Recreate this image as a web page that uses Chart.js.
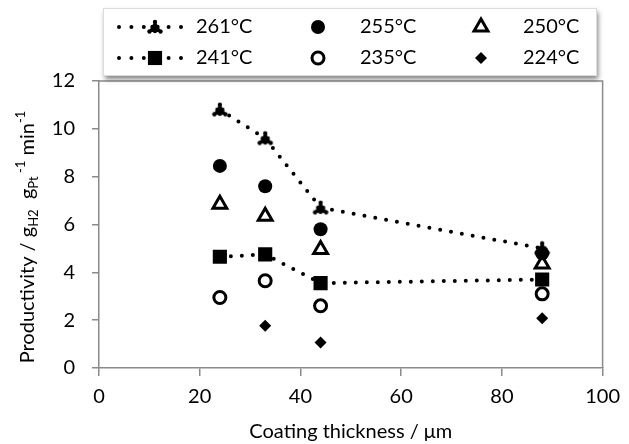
<!DOCTYPE html>
<html>
<head>
<meta charset="utf-8">
<script src="https://cdn.jsdelivr.net/npm/chart.js@4/dist/chart.umd.min.js"></script>
<style>
  html, body { margin: 0; padding: 0; background: #fff; }
</style>
</head>
<body>
<canvas id="prodChart" width="629" height="444"></canvas>
<script>
// Productivity vs coating thickness, one series per temperature
const thickness = [24, 33, 44, 88];
const p261 = [10.8, 9.6, 6.7, 5.0];
const p255 = [8.45, 7.6, 5.8, 4.8];
const p250 = [6.85, 6.35, 4.95, 4.35];
const p241 = [4.65, 4.75, 3.55, 3.7];
const p235 = [2.95, 3.65, 2.6, 3.1];
const p224 = [null, 1.77, 1.07, 2.08];
const seriesLabels = ['261°C', '255°C', '250°C', '241°C', '235°C', '224°C'];
const xTicks = [0, 20, 40, 60, 80, 100];
const yTicks = [0, 2, 4, 6, 8, 10, 12];

const FONT = 'Lato';
const axisGrey = '#8a8a8a';
const textCol = '#000';

// little pyramid of blobs used for the 261°C points
function pyramidMarker() {
    const c = document.createElement('canvas');
    c.width = 18; c.height = 16;
    const g = c.getContext('2d');
    g.fillStyle = '#000';
    g.beginPath(); g.moveTo(9, 2); g.lineTo(15.5, 13); g.lineTo(2.5, 13); g.closePath(); g.fill();
    [[9, 3], [6.5, 8], [11.5, 8], [3.5, 12.5], [9, 12], [14.5, 12.5]].forEach(function(p) {
        g.beginPath(); g.arc(p[0], p[1], 2.2, 0, Math.PI * 2); g.fill();
    });
    return c;
}

const points = (vals) => thickness.map((x, i) => ({ x: x, y: vals[i] }));

// grey frame on top and right of the plot
const frame = {
    id: 'frame',
    afterDatasetsDraw(chart) {
        const a = chart.chartArea, ctx = chart.ctx;
        ctx.save();
        ctx.strokeStyle = axisGrey; ctx.lineWidth = 1.5;
        ctx.beginPath();
        ctx.moveTo(a.left, a.top); ctx.lineTo(a.right, a.top); ctx.lineTo(a.right, a.bottom);
        ctx.stroke();
        ctx.restore();
    }
};

// y title with sub and superscripts
const yTitle = {
    id: 'yTitle',
    afterDraw(chart) {
        const ctx = chart.ctx;
        const parts = [
            ['Productivity / g', 0, 20], ['H2', 4, 13], ['  g', 0, 20], ['Pt', 4, 13],
            [' -1', -9, 13], [' min', 0, 20], ['-1', -9, 13]
        ];
        ctx.save();
        let total = 0;
        parts.forEach(p => { ctx.font = p[2] + 'px ' + FONT; total += ctx.measureText(p[0]).width; });
        ctx.translate(34, 237);
        ctx.rotate(-Math.PI / 2);
        ctx.fillStyle = textCol;
        ctx.textBaseline = 'alphabetic';
        let x = -total / 2;
        parts.forEach(p => {
            ctx.font = p[2] + 'px ' + FONT;
            ctx.fillText(p[0], x, p[1]);
            x += ctx.measureText(p[0]).width;
        });
        ctx.restore();
    }
};

// boxed legend, 3 columns x 2 rows
const legendBox = {
    id: 'legendBox',
    afterDraw(chart) {
        const ctx = chart.ctx;
        ctx.save();
        ctx.shadowColor = 'rgba(0,0,0,0.5)';
        ctx.shadowBlur = 5; ctx.shadowOffsetX = 2; ctx.shadowOffsetY = 4;
        ctx.fillStyle = '#fff';
        ctx.fillRect(103, 8, 493, 67);
        ctx.restore();
        ctx.save();
        ctx.strokeStyle = '#dcdcdc'; ctx.lineWidth = 1;
        ctx.strokeRect(103.5, 8.5, 493, 67);

        const colMarker = [155, 318, 481];
        const colText = [196, 360, 523];
        const rowY = [27, 58];
        chart.data.datasets.forEach((ds, i) => {
            const col = i % 3, row = Math.floor(i / 3);
            const y = rowY[row];
            if (ds.showLine) {
                ctx.save();
                ctx.strokeStyle = '#000'; ctx.lineWidth = 4;
                ctx.lineCap = 'round'; ctx.setLineDash([0, 12.4]);
                ctx.beginPath(); ctx.moveTo(119, y); ctx.lineTo(182, y); ctx.stroke();
                ctx.restore();
            }
            ctx.fillStyle = ds.backgroundColor;
            ctx.strokeStyle = ds.pointBorderColor || '#000';
            ctx.lineWidth = ds.pointBorderWidth || 0;
            Chart.helpers.drawPoint(ctx, {
                pointStyle: ds.pointStyle, radius: ds.pointRadius,
                borderWidth: ds.pointBorderWidth || 0, rotation: 0
            }, colMarker[col], y);
            ctx.fillStyle = textCol;
            ctx.font = '20px ' + FONT;
            ctx.textBaseline = 'middle';
            ctx.textAlign = 'left';
            ctx.fillText(ds.label, colText[col], y);
        });
        ctx.restore();
    }
};

const ctx = document.getElementById('prodChart').getContext('2d');
const prodChart = new Chart(ctx, {
    type: 'scatter',
    data: {
        datasets: [
            { label: seriesLabels[0], data: points(p261), showLine: true,
              borderColor: '#000', borderWidth: 4, borderDash: [0, 11], borderCapStyle: 'round',
              pointStyle: pyramidMarker(), pointRadius: 8, backgroundColor: '#000', pointBorderWidth: 0 },
            { label: seriesLabels[1], data: points(p255),
              pointStyle: 'circle', pointRadius: 7, backgroundColor: '#000', pointBorderColor: '#000', pointBorderWidth: 0 },
            { label: seriesLabels[2], data: points(p250),
              pointStyle: 'triangle', pointRadius: 8, backgroundColor: '#fff', pointBorderColor: '#000', pointBorderWidth: 3 },
            { label: seriesLabels[3], data: points(p241), showLine: true,
              borderColor: '#000', borderWidth: 4, borderDash: [0, 11], borderCapStyle: 'round',
              pointStyle: 'rect', pointRadius: 10, backgroundColor: '#000', pointBorderWidth: 0 },
            { label: seriesLabels[4], data: points(p235),
              pointStyle: 'circle', pointRadius: 6, backgroundColor: '#fff', pointBorderColor: '#000', pointBorderWidth: 3 },
            { label: seriesLabels[5], data: points(p224),
              pointStyle: 'rectRot', pointRadius: 6, backgroundColor: '#000', pointBorderWidth: 0 }
        ]
    },
    options: {
        responsive: false,
        animation: false,
        events: [],
        layout: { padding: { top: 81, right: 22, left: 0, bottom: 0 } },
        plugins: { legend: { display: false }, tooltip: { enabled: false } },
        scales: {
            x: {
                type: 'linear', min: 0, max: 100,
                afterBuildTicks: s => { s.ticks = xTicks.map(v => ({ value: v })); },
                afterFit: s => { s.height = 76; },
                grid: { display: true, drawOnChartArea: false, tickLength: 8, color: axisGrey, lineWidth: 1.5 },
                border: { display: true, color: axisGrey, width: 1.5 },
                ticks: { font: { family: FONT, size: 20 }, color: textCol, padding: 9, maxRotation: 0 },
                title: { display: true, text: 'Coating thickness / μm', color: textCol,
                         font: { family: FONT, size: 20 }, padding: { top: 0, bottom: 0 } }
            },
            y: {
                type: 'linear', min: 0, max: 12,
                afterBuildTicks: s => { s.ticks = yTicks.map(v => ({ value: v })); },
                afterFit: s => { s.width = 99; },
                grid: { display: true, drawOnChartArea: false, tickLength: 7, color: axisGrey, lineWidth: 1.5 },
                border: { display: true, color: axisGrey, width: 1.5 },
                ticks: { font: { family: FONT, size: 20 }, color: textCol, padding: 17 }
            }
        }
    },
    plugins: [frame, yTitle, legendBox]
});
</script>
</body>
</html>
